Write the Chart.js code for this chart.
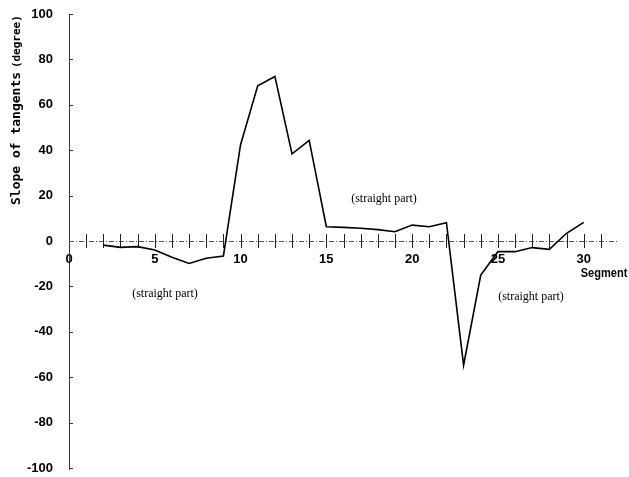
<!DOCTYPE html>
<html>
<head>
<meta charset="utf-8">
<script src="https://cdn.jsdelivr.net/npm/chart.js@4/dist/chart.umd.min.js"></script>
<style>
  html, body { margin: 0; padding: 0; background: #fff; }
  #wrap { width: 629px; height: 477px; position: relative; }
</style>
</head>
<body>
<div id="wrap"><canvas id="chart"></canvas></div>
<script>
// segment numbers and tangent slopes (degree)
const segments = [2, 3, 4, 5, 6, 7, 8, 9, 10, 11, 12, 13, 14, 15, 16,
  17, 18, 19, 20, 21, 22, 23, 24, 25, 26, 27, 28, 29, 30];
const slopes = [-1.8, -2.8, -2.5, -4, -7.2, -9.9, -7.6, -6.6, 42.4, 68.4,
  72.5, 38.4, 44.3, 6.3, 6, 5.6, 5, 4.1, 7, 6.3, 8.1, -54.7, -15, -4.7,
  -4.7, -2.9, -3.7, 3.4, 8.2];

const yTicks = [-100, -80, -60, -40, -20, 0, 20, 40, 60, 80, 100];
const xLabels = [0, 5, 10, 15, 20, 25, 30];

const notes = [
  { text: "(straight part)", x: 165, y: 294 },
  { text: "(straight part)", x: 384, y: 199 },
  { text: "(straight part)", x: 531, y: 297 },
];

const SANS = "'Liberation Sans', Arial, sans-serif";

/*************************************************************
 * Axis decorations (dash-dot zero line, crosses, y ticks, texts)
 *************************************************************/
const decorations = {
  id: "decorations",
  beforeDatasetsDraw(chart) {
    const { ctx, chartArea, scales } = chart;
    const x = scales.x;
    const y = scales.y;
    const y0 = y.getPixelForValue(0);
    ctx.save();

    // y axis line
    ctx.strokeStyle = "#333";
    ctx.lineWidth = 1;
    ctx.beginPath();
    ctx.moveTo(chartArea.left + 0.5, chartArea.top);
    ctx.lineTo(chartArea.left + 0.5, chartArea.bottom + 2);
    ctx.stroke();

    // small y ticks to the inside
    yTicks.forEach((v) => {
      const py = Math.round(y.getPixelForValue(v)) + 0.5;
      ctx.beginPath();
      ctx.moveTo(chartArea.left, py);
      ctx.lineTo(chartArea.left + 4, py);
      ctx.stroke();
    });

    // dash-dot zero line
    ctx.strokeStyle = "#555";
    ctx.setLineDash([5, 2, 1, 2]);
    ctx.beginPath();
    ctx.moveTo(chartArea.left, Math.round(y0) + 0.5);
    ctx.lineTo(chartArea.right, Math.round(y0) + 0.5);
    ctx.stroke();
    ctx.setLineDash([]);

    // crosses at each segment
    ctx.strokeStyle = "#222";
    for (let s = 1; s <= 31; s++) {
      const px = Math.round(x.getPixelForValue(s)) + 0.5;
      ctx.beginPath();
      ctx.moveTo(px, y0 - 7);
      ctx.lineTo(px, y0 + 7);
      ctx.stroke();
    }
    ctx.restore();
  },
  afterDraw(chart) {
    const { ctx } = chart;
    ctx.save();
    ctx.fillStyle = "#000";

    // y title
    ctx.translate(17, 205);
    ctx.rotate(-Math.PI / 2);
    ctx.textBaseline = "middle";
    ctx.textAlign = "left";
    ctx.font = "bold 13px 'DejaVu Sans Mono', monospace";
    const main = "Slope of tangents ";
    ctx.fillText(main, 0, 0);
    const w = ctx.measureText(main).width;
    ctx.font = "bold 11px 'DejaVu Sans Mono', monospace";
    ctx.fillText("(degree)", w - 4, 0);
    ctx.setTransform(1, 0, 0, 1, 0, 0);

    // x title, slightly condensed like the original gothic face
    ctx.font = "bold 13px " + SANS;
    ctx.textAlign = "center";
    ctx.translate(604, 273);
    ctx.scale(0.85, 1);
    ctx.fillText("Segment", 0, 0);
    ctx.setTransform(1, 0, 0, 1, 0, 0);

    // notes
    ctx.font = "12px 'Liberation Serif', 'Times New Roman', serif";
    notes.forEach((n) => ctx.fillText(n.text, n.x, n.y));
    ctx.restore();
  },
};

new Chart(document.getElementById("chart"), {
  type: "scatter",
  data: {
    datasets: [
      {
        data: segments.map((s, i) => ({ x: s, y: slopes[i] })),
        showLine: true,
        borderColor: "#000",
        borderWidth: 1.6,
        pointRadius: 0,
        tension: 0,
      },
    ],
  },
  options: {
    animation: false,
    responsive: true,
    maintainAspectRatio: false,
    layout: { padding: { top: 14, bottom: 9, right: 8, left: 0 } },
    plugins: {
      legend: { display: false },
      tooltip: { enabled: false },
    },
    scales: {
      x: {
        type: "linear",
        position: { y: 0 },
        min: 0,
        max: 32,
        grid: { display: false, drawTicks: false },
        border: { display: false },
        ticks: {
          stepSize: 1,
          autoSkip: false,
          maxRotation: 0,
          padding: 11,
          color: "#000",
          font: { family: SANS, size: 13, weight: "bold" },
          callback: (v) => (xLabels.includes(v) ? String(v) : ""),
        },
      },
      y: {
        min: -100,
        max: 100,
        afterFit: (scale) => {
          scale.width = 69;
          scale.paddingTop = 0;
          scale.paddingBottom = 0;
        },
        grid: { display: false, drawTicks: false },
        border: { display: false },
        ticks: {
          stepSize: 20,
          padding: 16,
          color: "#000",
          font: { family: SANS, size: 13, weight: "bold" },
        },
      },
    },
  },
  plugins: [decorations],
});
</script>
</body>
</html>
